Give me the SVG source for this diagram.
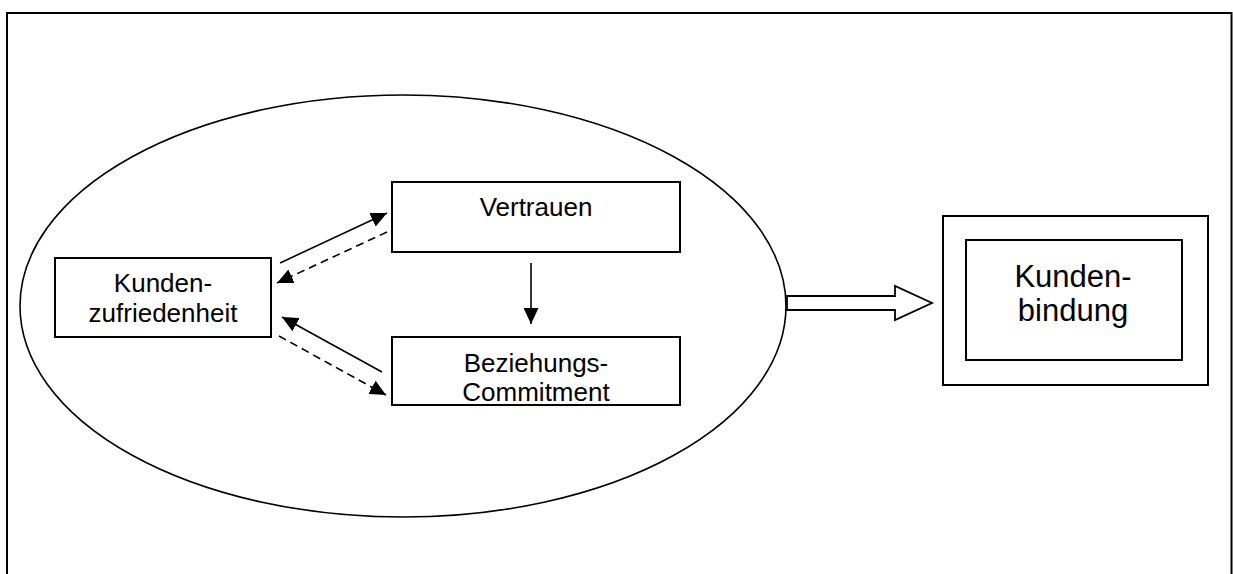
<svg xmlns="http://www.w3.org/2000/svg" width="1233" height="574" viewBox="0 0 1233 574">
  <style>
    .box { fill: #fff; stroke: #000; stroke-width: 2; }
    .lbl { font-family: "Liberation Sans", Arial, sans-serif; font-size: 26px; fill: #000; text-anchor: middle; }
    .big { font-size: 31px; }
    .edge { stroke: #000; stroke-width: 1.6; fill: none; }
    .dash { stroke-dasharray: 8 5; }
  </style>
  <defs>
    <marker id="tip" markerUnits="userSpaceOnUse" markerWidth="17" markerHeight="15" refX="16" refY="7.5" orient="auto">
      <path d="M0,0 L16,7.5 L0,15 Z" fill="#000"/>
    </marker>
  </defs>

  <rect width="1233" height="574" fill="#fff"/>

  <!-- outer frame, open at the bottom -->
  <path d="M7,574 V13 H1231.5 V574" fill="none" stroke="#000" stroke-width="2"/>

  <!-- relationship quality ellipse -->
  <ellipse id="quality" cx="403" cy="306" rx="383" ry="211" fill="none" stroke="#000" stroke-width="1.6"/>

  <g id="zufriedenheit">
    <rect class="box" x="55" y="258" width="216" height="79"/>
    <text class="lbl" x="163" y="292">Kunden-</text>
    <text class="lbl" x="163" y="322">zufriedenheit</text>
  </g>

  <g id="vertrauen">
    <rect class="box" x="392" y="182" width="288" height="70"/>
    <text class="lbl" x="536" y="216">Vertrauen</text>
  </g>

  <g id="commitment">
    <rect class="box" x="392" y="337" width="288" height="68"/>
    <text class="lbl" x="536" y="372">Beziehungs-</text>
    <text class="lbl" x="536" y="401">Commitment</text>
  </g>

  <g id="bindung">
    <rect class="box" x="943" y="216" width="265" height="169"/>
    <rect class="box" x="966" y="240" width="216" height="120"/>
    <text class="lbl big" x="1073" y="287">Kunden-</text>
    <text class="lbl big" x="1073" y="321">bindung</text>
  </g>

  <g id="connectors">
    <line class="edge" x1="280" y1="263" x2="387" y2="213" marker-end="url(#tip)"/>
    <line class="edge dash" x1="387" y1="232" x2="277" y2="283" marker-end="url(#tip)"/>
    <line class="edge" x1="382" y1="372" x2="282" y2="317" marker-end="url(#tip)"/>
    <line class="edge dash" x1="279" y1="336" x2="386" y2="395" marker-end="url(#tip)"/>
    <line class="edge" x1="531" y1="263" x2="531" y2="324" marker-end="url(#tip)"/>
    <!-- hollow block arrow into customer retention -->
    <path d="M787,296 H895 V286 L932,303 L895,320 V310 H787 Z" fill="#fff" stroke="#000" stroke-width="1.8" stroke-linejoin="miter"/>
  </g>
</svg>
